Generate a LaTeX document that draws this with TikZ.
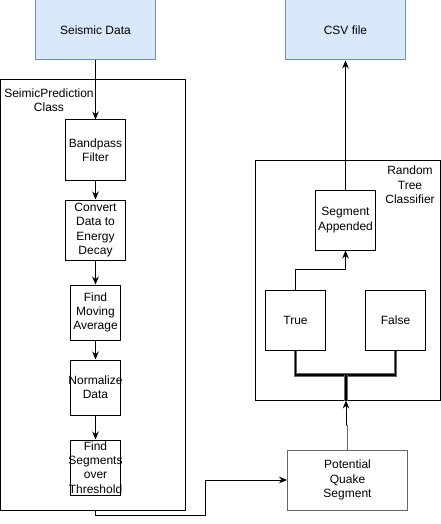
\documentclass[tikz,border=0pt]{standalone}
\usepackage{fontspec}
\setmainfont{Liberation Sans}
\usetikzlibrary{arrows.meta}

\definecolor{datafill}{HTML}{DAE8FC}
\definecolor{dataline}{HTML}{6C8EBF}
\definecolor{quakeline}{HTML}{666666}

\begin{document}
\begin{tikzpicture}[x=0.75pt,y=-0.75pt,
  every node/.style={font=\fontsize{9}{10.75}\selectfont, inner sep=0pt, align=center},
  box/.style={draw, line width=0.75pt, minimum width=#1*0.75pt},
  box/.default=60,
  file/.style={box=120, minimum height=45pt, fill=datafill, draw=dataline},
  arrow/.style={line width=0.75pt, -{Stealth[length=6pt,width=5pt]}},
  link/.style={draw=quakeline, line width=0.6pt, double=black, double distance=1.2pt}]

% Fix the page to the picture
\useasboundingbox (0,0) rectangle (441,524);

% Wide words run over their box
\def\fit#1{\makebox[36pt]{#1}}

% Draw the two files
\node[file] (data) at (95.5,30) {Seismic Data};
\node[file] (csv) at (345.5,30) {CSV file};

% Draw the prediction class
\node[box=185, minimum height=322.5pt] (cls) at (93,295) {};
\node (clslabel) at (49,100) {SeimicPrediction\\Class};

% Draw the steps of the class
\node[box, minimum height=45pt] (bandpass) at (95.5,150) {Bandpass\\Filter};
\node[box, minimum height=45pt] (convert) at (95.5,230) {Convert\\Data to\\Energy\\Decay};
\node[box=50, minimum height=41.25pt] (moving) at (95.5,312.5) {Find\\Moving\\Average};
\node[box=50, minimum height=41.25pt] (normalize) at (95.5,387.5) {\fit{Normalize}\\Data};
\node[box=50, minimum height=41.25pt] (segments) at (95.5,467.5) {Find\\\fit{Segments}\\over\\\fit{Threshold}};

% Draw the classifier
\node[box=185, minimum height=180pt] (rtc) at (348,280) {};
\node (rtclabel) at (410,185) {Random\\Tree\\Classifier};
\node[box, minimum height=45pt] (appended) at (345.5,220) {Segment\\Appended};
\node[box, minimum height=45pt] (true) at (295.5,320) {True};
\node[box, minimum height=45pt] (false) at (395.5,320) {False};

% Draw the candidate segment
\node[box=120, minimum height=45pt, draw=quakeline] (quake) at (347.5,480) {Potential\\Quake\\Segment};

% Draw the steps one after another
\draw[arrow] (data) -- (bandpass);
\draw[arrow] (bandpass) -- (convert);
\draw[arrow] (convert) -- (moving);
\draw[arrow] (moving) -- (normalize);
\draw[arrow] (normalize) -- (segments);

% Draw the class output to the segment
\coordinate (turn) at (205,515);
\draw[arrow] (segments |- cls.south) |- (turn) |- (quake.west);

% Draw the segment into the classifier
\coordinate (jog) at (346,425);
\coordinate (hub) at (346,375);
\draw[line width=0.75pt, quakeline] (quake.north) |- (jog);
\draw[arrow] (jog) -- (jog |- rtc.south);

% Draw the two outcomes
\draw[link] (true.south) |- (hub) -| (false.south);
\draw[link] (hub) -- (hub |- rtc.south);

% Draw true to the appended segment and out to the file
\draw[arrow] (true.north) -- ++(0,-20) -| (appended.south);
\draw[arrow] (appended) -- (csv);

\end{tikzpicture}
\end{document}
